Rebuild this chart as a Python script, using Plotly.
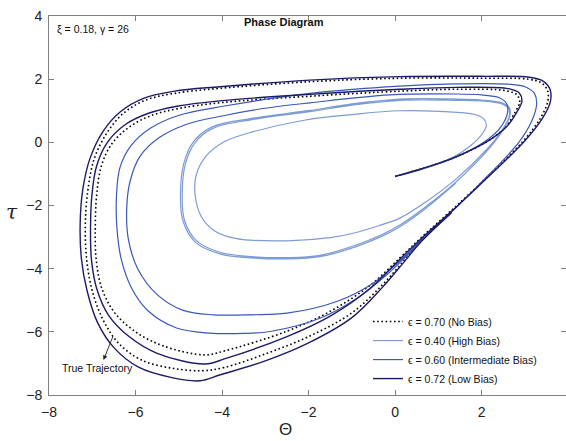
import plotly.graph_objects as go

# ---------------- data ----------------
labels = ["\u03f5 = 0.70 (No Bias)", "\u03f5 = 0.40 (High Bias)",
          "\u03f5 = 0.60 (Intermediate Bias)", "\u03f5 = 0.72 (Low Bias)"]

theta_nobias = [0.00, 0.65, 1.42, 2.19, 2.56, 2.77, 2.88, 2.82, 2.58,
                1.40, 0.11, -1.97, -4.00, -5.01, -5.65, -6.15, -6.55, -6.79, -6.90, -6.93, -6.91, -6.78, -6.48, -6.00, -5.35, -4.40,
                -3.93, -2.50, -1.50, -0.60, 0.11,
                0.60, 1.45, 2.30, 2.98, 3.36, 3.53, 3.52, 3.37, 3.08,
                2.00, 0.10, -1.97, -4.05, -5.10, -5.78, -6.28, -6.66, -6.95, -7.10, -7.16, -7.13, -7.00, -6.75, -6.38, -5.85, -5.12, -4.45,
                -3.95, -3.00, -2.00, -1.00, -0.30, 0.20, 0.60, 1.30]
tau_nobias = [-1.08, -0.82, -0.45, 0.08, 0.50, 0.95, 1.27, 1.50, 1.63,
              1.68, 1.62, 1.46, 1.26, 1.07, 0.84, 0.48, -0.05, -0.75, -1.70, -2.70, -3.70, -4.62, -5.40, -6.00, -6.45, -6.73,
              -6.60, -5.98, -5.35, -4.55, -3.66,
              -3.02, -1.97, -0.87, 0.07, 0.77, 1.30, 1.65, 1.89, 2.00,
              2.03, 2.03, 1.92, 1.71, 1.55, 1.33, 0.92, 0.30, -0.50, -1.50, -2.60, -3.70, -4.70, -5.62, -6.38, -6.90, -7.16, -7.23,
              -7.13, -6.70, -6.15, -5.40, -4.52, -3.75, -3.12, -2.20]

theta_high = [0.00, 0.65, 1.30, 1.75, 2.02, 2.11, 2.04, 1.82, 1.43,
              0.10, -1.00, -2.10, -3.27, -3.95, -4.38, -4.60, -4.62, -4.48, -4.18, -3.66,
              -2.50, -1.50, -0.97, -0.40, 0.11,
              0.70, 1.42, 2.10, 2.48, 2.64, 2.62, 2.45, 2.00,
              1.42, 0.11, -1.00, -1.97, -3.30, -4.20, -4.62, -4.85, -4.92, -4.87, -4.59, -4.05, -3.30,
              -2.50, -1.74, -0.90, -0.30, 0.11,
              0.70, 1.42, 2.12, 2.52, 2.66, 2.64, 2.47, 2.00,
              1.42, 0.11, -1.00, -1.97, -3.30, -4.23, -4.66, -4.89, -4.96, -4.91, -4.62, -4.05, -3.30,
              -2.50, -1.74, -0.90, -0.30, 0.11, 0.70, 1.40]
tau_high = [-1.08, -0.84, -0.50, -0.10, 0.28, 0.55, 0.76, 0.89, 0.95,
            1.00, 0.88, 0.70, 0.34, 0.02, -0.45, -1.05, -1.70, -2.35, -2.80, -3.05,
            -3.12, -3.02, -2.88, -2.65, -2.40,
            -1.90, -1.15, -0.25, 0.40, 0.85, 1.07, 1.22, 1.31,
            1.33, 1.33, 1.18, 0.97, 0.72, 0.45, 0.00, -0.70, -1.61, -2.46, -3.12, -3.48, -3.62,
            -3.65, -3.58, -3.25, -2.92, -2.62,
            -2.05, -1.24, -0.28, 0.45, 0.88, 1.10, 1.25, 1.34,
            1.37, 1.37, 1.22, 1.01, 0.76, 0.49, 0.02, -0.70, -1.61, -2.46, -3.16, -3.53, -3.66,
            -3.69, -3.62, -3.30, -2.97, -2.67, -2.10, -1.30]

theta_mid = [0.00, 0.65, 1.42, 2.10, 2.45, 2.60, 2.58, 2.40, 2.00,
             1.40, -0.12, -1.97, -3.00, -3.94, -4.80, -5.45, -5.90, -6.12, -6.20, -6.17, -5.95, -5.50, -4.90, -4.20,
             -3.30, -2.50, -1.35, -0.50, 0.11,
             0.60, 1.40, 2.20, 2.85, 3.15, 3.27, 3.22, 3.00, 2.60,
             1.40, 0.11, -1.97, -3.94, -5.01, -5.65, -6.10, -6.36, -6.44, -6.43, -6.33, -6.09, -5.70, -5.05, -4.30,
             -3.50, -2.89, -1.74, -0.90, -0.20, 0.30, 0.70, 1.30]
tau_mid = [-1.08, -0.83, -0.46, 0.05, 0.50, 0.95, 1.22, 1.42, 1.50,
           1.53, 1.50, 1.25, 1.08, 0.85, 0.58, 0.15, -0.45, -1.20, -1.98, -3.03, -4.00, -4.82, -5.32, -5.46,
           -5.46, -5.41, -5.04, -4.45, -3.75,
           -3.10, -2.08, -0.98, -0.02, 0.65, 1.20, 1.55, 1.76, 1.84,
           1.85, 1.78, 1.55, 1.15, 0.85, 0.45, -0.10, -0.80, -1.70, -2.70, -3.70, -4.62, -5.35, -5.88, -6.04,
           -6.05, -5.99, -5.57, -4.95, -4.20, -3.55, -3.00, -2.25]

theta_low = [0.00, 0.65, 1.42, 2.19, 2.58, 2.81, 2.93, 2.87, 2.62,
             1.40, 0.11, -1.97, -4.00, -5.01, -5.70, -6.25, -6.65, -6.90, -7.01, -7.04, -7.02, -6.90, -6.63, -6.15, -5.50, -4.39,
             -3.93, -2.50, -1.50, -0.60, 0.11,
             0.60, 1.45, 2.30, 3.00, 3.40, 3.59, 3.58, 3.42, 3.10,
             2.00, 0.10, -1.97, -4.05, -5.10, -5.80, -6.35, -6.75, -7.05, -7.22, -7.28, -7.25, -7.12, -6.88, -6.50, -5.93, -5.16, -4.51,
             -4.04, -3.00, -2.00, -1.00, -0.30, 0.20, 0.60, 1.30]
tau_low = [-1.08, -0.82, -0.45, 0.08, 0.50, 0.95, 1.30, 1.56, 1.70,
           1.74, 1.68, 1.52, 1.32, 1.15, 0.92, 0.55, 0.00, -0.75, -1.70, -2.70, -3.70, -4.62, -5.46, -6.15, -6.68, -7.02,
           -6.85, -6.15, -5.50, -4.65, -3.70,
           -3.05, -2.00, -0.90, 0.05, 0.75, 1.30, 1.68, 1.94, 2.06,
           2.09, 2.08, 1.97, 1.76, 1.62, 1.40, 0.97, 0.35, -0.50, -1.50, -2.60, -3.70, -4.70, -5.70, -6.50, -7.12, -7.45, -7.55,
           -7.36, -6.92, -6.35, -5.55, -4.60, -3.80, -3.15, -2.22]

x_ticks = [-8, -6, -4, -2, 0, 2, 4]
y_ticks = [-8, -6, -4, -2, 0, 2, 4]

# arrow of the "True Trajectory" note: head point (data coords)
arrow_head = (-6.74, -6.89)
note_pos = (-6.87, -7.14)

# ---------------- figure ----------------
FONT = "Liberation Sans, Arial, Helvetica, sans-serif"
NAVY = "#1d1b68"
MID = "#3a58b8"
LIGHT = "#7d9bd4"

fig = go.Figure()
fig.add_trace(go.Scatter(x=theta_nobias, y=tau_nobias, mode="lines", name=labels[0],
                         line=dict(color="black", width=1.6, dash="1.6px,2.6px", shape="spline", smoothing=1.0)))
fig.add_trace(go.Scatter(x=theta_high, y=tau_high, mode="lines", name=labels[1],
                         line=dict(color=LIGHT, width=1.2, shape="spline", smoothing=1.0)))
fig.add_trace(go.Scatter(x=theta_mid, y=tau_mid, mode="lines", name=labels[2],
                         line=dict(color=MID, width=1.2, shape="spline", smoothing=1.0)))
fig.add_trace(go.Scatter(x=theta_low, y=tau_low, mode="lines", name=labels[3],
                         line=dict(color=NAVY, width=1.4, shape="spline", smoothing=1.0)))

axis_common = dict(showgrid=False, zeroline=False, showline=True, linecolor="#808080", linewidth=1,
                   mirror="ticks", ticks="inside", ticklen=5, tickcolor="#808080",
                   tickfont=dict(family=FONT, size=14, color="#222"))
fig.update_xaxes(range=[-8, 3.95], tickvals=x_ticks, ticklabelstandoff=4, **axis_common)
fig.update_yaxes(range=[-8, 4], tickvals=y_ticks, ticklabelstandoff=3, **axis_common)

fig.update_layout(
    width=566, height=441,
    margin=dict(l=49, r=0, t=16, b=46),
    paper_bgcolor="white", plot_bgcolor="white",
    font=dict(family=FONT, color="#111"),
    showlegend=True,
    legend=dict(x=0.617, y=0.232, xanchor="left", yanchor="top", bgcolor="rgba(0,0,0,0)",
                borderwidth=0, font=dict(family=FONT, size=10.5, color="#111"), itemwidth=30),
)

fig.add_annotation(text="<b>Phase Diagram</b>", xref="paper", yref="paper", x=0.4536, y=0.984,
                   xanchor="center", yanchor="middle",
                   showarrow=False, font=dict(family=FONT, size=11, color="#111"))
fig.add_annotation(text="\u03be = 0.18, \u03b3 = 26", xref="paper", yref="paper", x=0.0116, y=0.966,
                   xanchor="left", yanchor="middle", showarrow=False,
                   font=dict(family=FONT, size=10.5, color="#111"))
fig.add_annotation(text="\u0398", xref="paper", yref="paper", x=0.4565, y=-0.0923,
                   xanchor="center", yanchor="middle",
                   showarrow=False, font=dict(family=FONT, size=17, color="#222"))
fig.add_annotation(text="<i>\u03c4</i>", xref="paper", yref="paper", x=-0.0716, y=0.483,
                   xanchor="center", yanchor="middle",
                   showarrow=False, font=dict(family="DejaVu Serif, serif", size=20, color="#222"))
fig.add_annotation(text="True Trajectory", x=note_pos[0], y=note_pos[1], showarrow=False,
                   xanchor="center", yanchor="middle",
                   font=dict(family=FONT, size=10.5, color="#111"))
fig.add_annotation(text="", x=arrow_head[0], y=arrow_head[1], ax=10, ay=-25, showarrow=True,
                   arrowhead=2, arrowsize=1, arrowwidth=0.9, arrowcolor="#222")

fig.write_html("out.html")
